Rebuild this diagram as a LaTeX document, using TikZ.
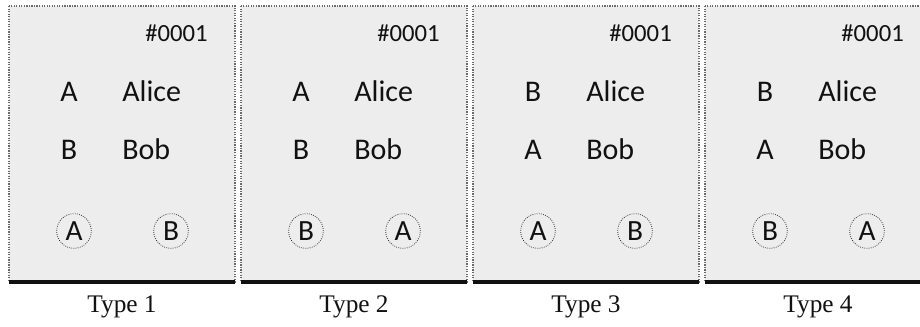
\documentclass[tikz,border=0pt]{standalone}
\usepackage{fontspec}
\setmainfont{Liberation Serif}
\setsansfont{Carlito}
\definecolor{cardInk}{HTML}{111111}
\definecolor{cardFill}{HTML}{EDEDED}
\definecolor{cardEdge}{HTML}{6A6A6A}
\tikzset{
  every picture/.style={text=cardInk},
  card box/.style={draw=cardEdge, line width=0.9pt, densely dotted, fill=cardFill},
  card base/.style={draw=cardInk, line width=3pt, line cap=butt},
  card id/.style={font=\sffamily\fontsize{18.5}{18.5}\selectfont, anchor=base east, inner sep=0pt},
  card key/.style={font=\sffamily\fontsize{22.5}{22.5}\selectfont, anchor=base, inner sep=0pt},
  card name/.style={font=\sffamily\fontsize{22.5}{22.5}\selectfont, anchor=base west, inner sep=0pt},
  card mark/.style={circle, draw=cardInk!85, densely dotted, line width=0.6pt,
    minimum size=26pt, inner sep=0pt, font=\sffamily\fontsize{22}{22}\selectfont},
  card caption/.style={font=\fontsize{19}{19}\selectfont, anchor=base, inner sep=0pt}
}
\begin{document}
\begin{tikzpicture}[x=0.75pt,y=-0.75pt]
  \useasboundingbox (0,0) rectangle (920,326);
  \foreach \i/\ka/\kb/\ma/\mb in {1/A/B/A/B, 2/A/B/B/A, 3/B/A/A/B, 4/B/A/B/A}{
    \pgfmathsetmacro{\L}{9+232*(\i-1)}
    % card face and its dark lower edge
    \path[card box] (\L,6) rectangle (\L+226,282);
    \draw[card base] (\L,282) -- (\L+226,282);
    \node[card id] (id\i) at (\L+199,41) {\#0001};
    \node[card key] (ka\i) at (\L+60,101) {\ka};
    \node[card name] (na\i) at (\L+113,101) {Alice};
    \node[card key] (kb\i) at (\L+60,159) {\kb};
    \node[card name] (nb\i) at (\L+113,159) {Bob};
    \node[card mark] (ma\i) at (\L+65,231) {\ma};
    \node[card mark] (mb\i) at (\L+162,231) {\mb};
    \node[card caption] (ty\i) at (\L+113,312) {Type \i};
  }
\end{tikzpicture}
\end{document}
